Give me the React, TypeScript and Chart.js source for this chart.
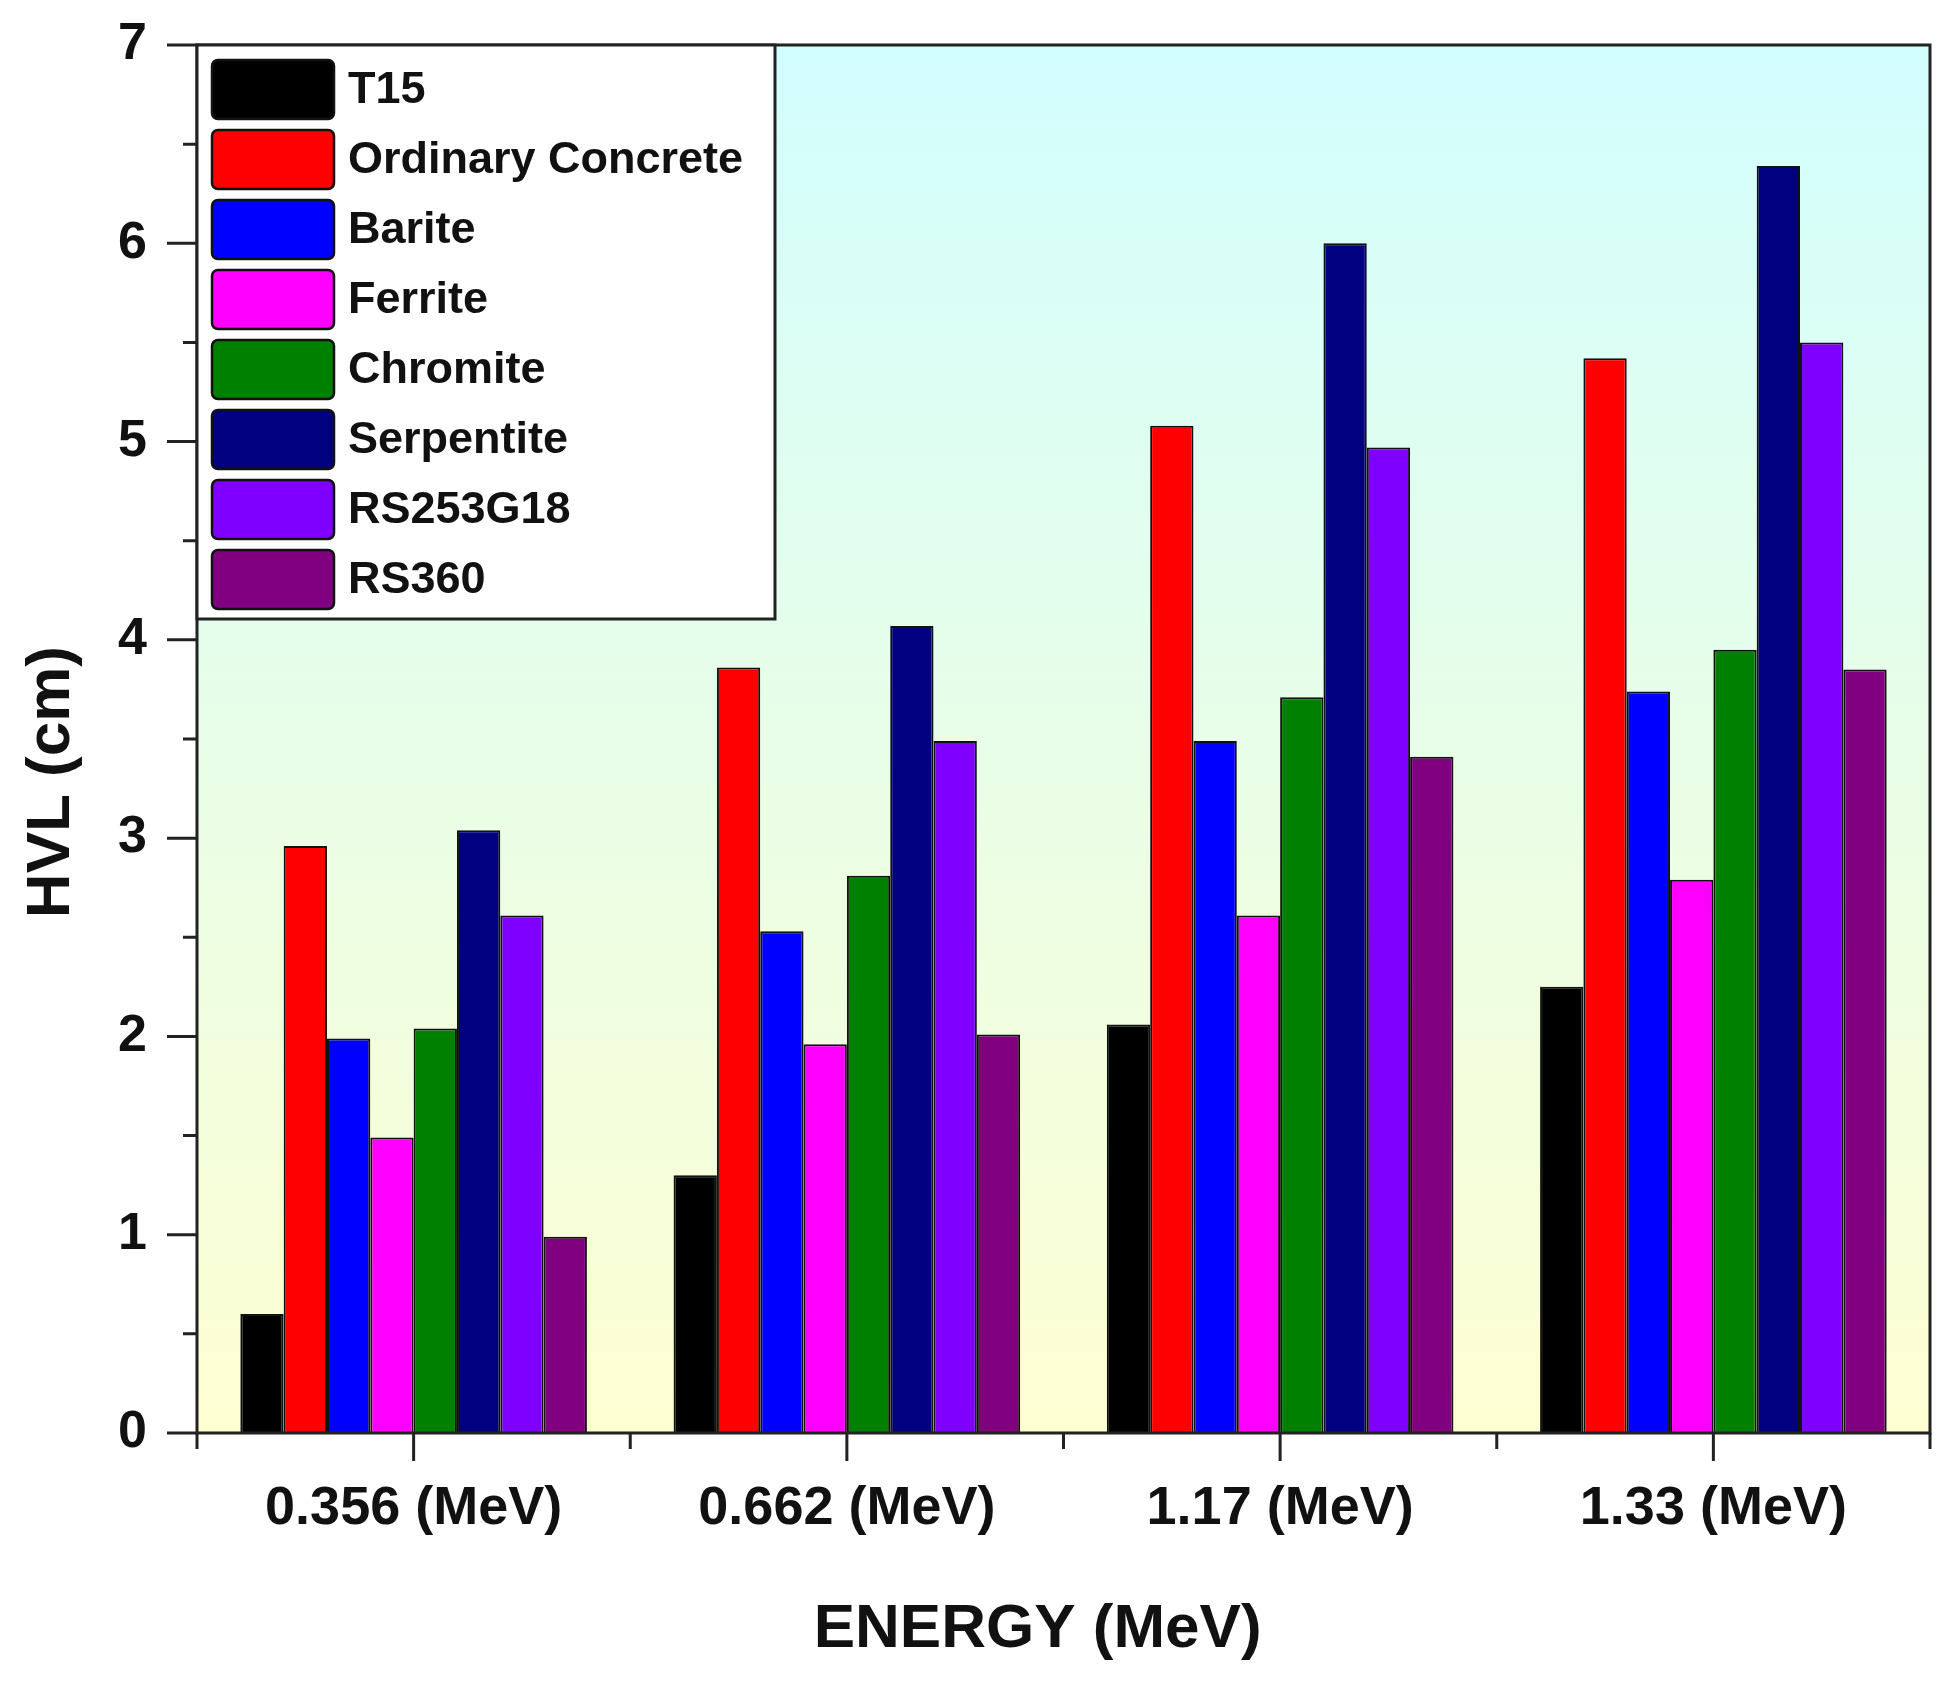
import React, { useEffect, useRef } from 'react';
import { Chart, registerables } from 'chart.js';
import type { Plugin } from 'chart.js';

Chart.register(...registerables);

const categories = ['0.356 (MeV)', '0.662 (MeV)', '1.17 (MeV)', '1.33 (MeV)'];
const seriesNames = ['T15', 'Ordinary Concrete', 'Barite', 'Ferrite', 'Chromite', 'Serpentite', 'RS253G18', 'RS360'];
const seriesColors = ['#000000', '#ff0000', '#0000ff', '#ff00ff', '#008000', '#000080', '#8000ff', '#800080'];

const t15 = [0.6, 1.3, 2.06, 2.25];
const ordinaryConcrete = [2.96, 3.86, 5.08, 5.42];
const barite = [1.99, 2.53, 3.49, 3.74];
const ferrite = [1.49, 1.96, 2.61, 2.79];
const chromite = [2.04, 2.81, 3.71, 3.95];
const serpentite = [3.04, 4.07, 6.0, 6.39];
const rs253g18 = [2.61, 3.49, 4.97, 5.5];
const rs360 = [0.99, 2.01, 3.41, 3.85];

const seriesValues = [t15, ordinaryConcrete, barite, ferrite, chromite, serpentite, rs253g18, rs360];

const yMin = 0;
const yMax = 7;

const FONT = "'Liberation Sans', Arial, sans-serif";

// background gradient, frame, tick marks and the boxed legend
const decorations: Plugin<'bar'> = {
  id: 'decorations',
  beforeDatasetsDraw(chart) {
    const { ctx, chartArea: a } = chart;
    const g = ctx.createLinearGradient(0, a.top, 0, a.bottom);
    g.addColorStop(0, '#d2fefe');
    g.addColorStop(1, '#fefed2');
    ctx.save();
    ctx.fillStyle = g;
    ctx.fillRect(a.left, a.top, a.right - a.left, a.bottom - a.top);
    ctx.restore();
  },
  afterDatasetsDraw(chart) {
    const { ctx, chartArea: a } = chart;
    const x = chart.scales.x;
    const y = chart.scales.y;
    ctx.save();
    ctx.strokeStyle = '#222';
    ctx.lineWidth = 3;
    ctx.strokeRect(a.left, a.top, a.right - a.left, a.bottom - a.top);

    ctx.beginPath();
    for (let v = yMin; v <= yMax; v += 0.5) {
      const py = y.getPixelForValue(v);
      const len = Number.isInteger(v) ? 30 : 14;
      ctx.moveTo(a.left - len, py);
      ctx.lineTo(a.left, py);
    }
    const half = (x.getPixelForValue(1) - x.getPixelForValue(0)) / 2;
    categories.forEach((_, i) => {
      const cx = x.getPixelForValue(i);
      ctx.moveTo(cx, a.bottom);
      ctx.lineTo(cx, a.bottom + 28);
      ctx.moveTo(cx - half, a.bottom);
      ctx.lineTo(cx - half, a.bottom + 16);
      if (i === categories.length - 1) {
        ctx.moveTo(cx + half, a.bottom);
        ctx.lineTo(cx + half, a.bottom + 16);
      }
    });
    ctx.stroke();

    // legend
    const bx = a.left;
    const by = a.top;
    const bw = 578;
    const bh = 574;
    ctx.fillStyle = '#ffffff';
    ctx.fillRect(bx, by, bw, bh);
    ctx.lineWidth = 3;
    ctx.strokeRect(bx, by, bw, bh);
    ctx.font = `bold 45px ${FONT}`;
    ctx.textBaseline = 'middle';
    chart.data.datasets.forEach((ds, i) => {
      const top = by + 15 + i * 70;
      ctx.beginPath();
      ctx.roundRect(bx + 15, top, 122, 59, 6);
      ctx.fillStyle = ds.backgroundColor as string;
      ctx.fill();
      ctx.lineWidth = 2.5;
      ctx.strokeStyle = '#111';
      ctx.stroke();
      ctx.fillStyle = '#111';
      ctx.fillText(ds.label ?? '', bx + 151, top + 31);
    });
    ctx.restore();
  },
};

const App: React.FC = () => {
  const canvasRef = useRef<HTMLCanvasElement>(null);
  const chartRef = useRef<Chart<'bar'> | null>(null);

  useEffect(() => {
    document.body.style.margin = '0';
    if (!canvasRef.current) return;
    const ctx = canvasRef.current.getContext('2d');
    if (!ctx) return;

    if (chartRef.current) chartRef.current.destroy();

    chartRef.current = new Chart(ctx, {
      type: 'bar',
      data: {
        labels: categories,
        datasets: seriesNames.map((name, i) => ({
          label: name,
          data: seriesValues[i],
          backgroundColor: seriesColors[i],
          borderColor: '#111',
          borderWidth: 2,
          categoryPercentage: 0.8,
          barPercentage: 1.0,
        })),
      },
      options: {
        responsive: false,
        animation: false,
        devicePixelRatio: 1,
        layout: { padding: { top: 45, right: 30, bottom: 0, left: 0 } },
        plugins: {
          legend: { display: false },
          tooltip: { enabled: false },
        },
        scales: {
          x: {
            grid: { display: false, drawTicks: false },
            border: { display: false },
            ticks: {
              color: '#111',
              padding: 44,
              font: { family: FONT, size: 54, weight: 'bold' },
              maxRotation: 0,
            },
            title: {
              display: true,
              // trailing spaces nudge the centred title a little to the left
              text: 'ENERGY (MeV)   ',
              color: '#111',
              font: { family: FONT, size: 62, weight: 'bold' },
              padding: { top: 0, bottom: 17 },
            },
            afterFit: (scale) => {
              scale.height = 251;
            },
          },
          y: {
            min: yMin,
            max: yMax,
            grid: { display: false, drawTicks: false },
            border: { display: false },
            ticks: {
              stepSize: 1,
              color: '#111',
              padding: 50,
              font: { family: FONT, size: 52, weight: 'bold' },
            },
            title: {
              display: true,
              text: 'HVL (cm)     ',
              color: '#111',
              font: { family: FONT, size: 62, weight: 'bold' },
              padding: { top: 15, bottom: 0 },
            },
            afterFit: (scale) => {
              scale.width = 197;
              scale.paddingTop = 0;
              scale.paddingBottom = 0;
            },
          },
        },
      },
      plugins: [decorations],
    });

    return () => {
      if (chartRef.current) {
        chartRef.current.destroy();
        chartRef.current = null;
      }
    };
  }, []);

  return (
    <div style={{ width: 1960, height: 1684 }}>
      <canvas ref={canvasRef} width={1960} height={1684}></canvas>
    </div>
  );
};

export default App;
